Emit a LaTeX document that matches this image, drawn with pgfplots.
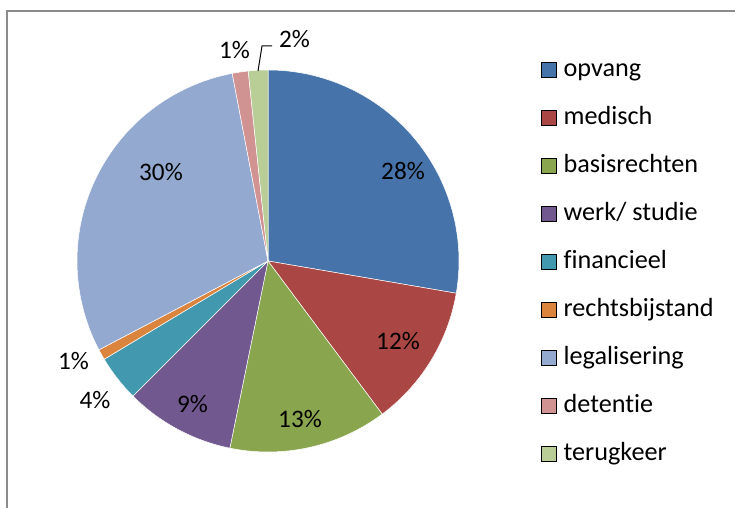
\documentclass[border=0pt]{standalone}
\usepackage{pgfplots}
\pgfplotsset{compat=1.18}
\usepackage{pgfplotstable}
\usepackage{fontspec}
\setmainfont[Ligatures=NoCommon]{Carlito}

\definecolor{pie0}{HTML}{4674AA}
\definecolor{pie1}{HTML}{AA4643}
\definecolor{pie2}{HTML}{89A54E}
\definecolor{pie3}{HTML}{71588F}
\definecolor{pie4}{HTML}{4198AF}
\definecolor{pie5}{HTML}{DB843D}
\definecolor{pie6}{HTML}{93A9CF}
\definecolor{pie7}{HTML}{D19392}
\definecolor{pie8}{HTML}{B9CD96}
\definecolor{frame}{HTML}{8C8C8C}

% share of each category (percent), clockwise from 12 o'clock
\pgfplotstableread{
name value
opvang 27.7
medisch 12.1
basisrechten 13.4
werk 9.3
financieel 3.9
rechtsbijstand 0.9
legalisering 29.7
detentie 1.35
terugkeer 1.65
}\piedata

% data label positions
\pgfplotstableread{
x y label
403 337 28
398 167 12
300 89 13
192.5 104 9
95 107.5 4
73.5 147 1
161 335.5 30
234.5 458 1
294.5 469 2
}\labeldata

\newcommand\cumsum{0}
\pgfplotsforeachungrouped \i in {0,...,8}{%
  \pgfplotstablegetelem{\i}{value}\of\piedata
  \pgfmathsetmacro\startang{90-3.6*\cumsum}%
  \pgfmathsetmacro\newcum{\cumsum+\pgfplotsretval}%
  \pgfmathsetmacro\endang{90-3.6*\newcum}%
  \expandafter\xdef\csname pieS\i\endcsname{\startang}%
  \expandafter\xdef\csname pieE\i\endcsname{\endang}%
  \xdef\cumsum{\newcum}%
}

\newcommand\lblfont{\fontsize{25.2bp}{30bp}\selectfont}
\newcommand\legfont{\fontsize{26.2bp}{31bp}\selectfont}

\begin{document}
\begin{tikzpicture}
\useasboundingbox (0,0) rectangle (735bp,508bp);
\begin{axis}[
  anchor=origin, at={(0,0)},
  width=735bp, height=508bp, scale only axis,
  xmin=0, xmax=735, ymin=0, ymax=508,
  hide axis,
  legend image code/.code={\fill[#1] (0bp,-1bp) rectangle (15bp,14bp);},
  legend style={at={(0.7361,0.8839)}, anchor=north west, draw=none, fill=none,
    inner sep=0pt, font=\legfont,
    nodes={inner sep=0pt, text height=17bp, text depth=5bp, anchor=base west},
    row sep=26bp, column sep=7bp},
  legend cell align=left,
]
\pgfplotsinvokeforeach{0,...,8}{%
  \fill[pie#1, draw=white, line width=0.5bp] (axis cs:268,247) -- ++(\csname pieS#1\endcsname:191bp)
    arc[start angle=\csname pieS#1\endcsname, end angle=\csname pieE#1\endcsname, radius=191bp] -- cycle;
}
\addplot[draw=none, mark=none, forget plot,
  nodes near coords={\pgfplotspointmeta\%},
  nodes near coords style={anchor=center, font=\lblfont, inner sep=0pt, text=black},
  point meta=explicit symbolic] table[x=x, y=y, meta=label] {\labeldata};
\addplot[black, line width=1bp, forget plot] coordinates {(258,437) (262,462) (272,462)};
\addplot[frame, line width=1.3bp, forget plot] coordinates {(7,-5) (7,497) (740,497)};
\addlegendimage{fill=pie0}\addlegendentry{opvang}
\addlegendimage{fill=pie1}\addlegendentry{medisch}
\addlegendimage{fill=pie2}\addlegendentry{basisrechten}
\addlegendimage{fill=pie3}\addlegendentry{werk/ studie}
\addlegendimage{fill=pie4}\addlegendentry{financieel}
\addlegendimage{fill=pie5}\addlegendentry{rechtsbijstand}
\addlegendimage{fill=pie6}\addlegendentry{legalisering}
\addlegendimage{fill=pie7}\addlegendentry{detentie}
\addlegendimage{fill=pie8}\addlegendentry{terugkeer}
\end{axis}
\end{tikzpicture}
\end{document}
